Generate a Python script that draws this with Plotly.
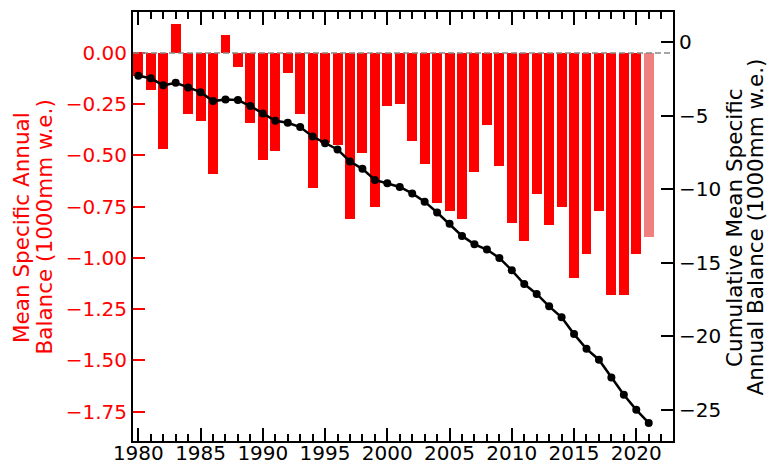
import plotly.graph_objects as go

years = list(range(1980, 2022))
annual_balance = [
    -0.11, -0.18, -0.47, 0.14, -0.30, -0.33, -0.59, 0.09, -0.07, -0.34,
    -0.52, -0.48, -0.10, -0.30, -0.66, -0.44, -0.45, -0.81, -0.49, -0.75,
    -0.26, -0.25, -0.43, -0.54, -0.73, -0.77, -0.81, -0.58, -0.35, -0.55,
    -0.83, -0.92, -0.69, -0.84, -0.75, -1.10, -0.98, -0.77, -1.18, -1.18,
    -0.98, -0.90,
]
cumulative_balance = [
    -2.30, -2.47, -2.95, -2.77, -3.09, -3.41, -4.02, -3.91, -3.95, -4.36,
    -4.86, -5.36, -5.49, -5.79, -6.43, -6.88, -7.31, -8.13, -8.63, -9.38,
    -9.60, -9.86, -10.30, -10.86, -11.60, -12.37, -13.19, -13.76, -14.12, -14.69,
    -15.53, -16.46, -17.14, -17.98, -18.73, -19.87, -20.87, -21.61, -22.82, -24.00,
    -25.02, -25.91,
]
bar_colors = ["#FF0000"] * (len(years) - 1) + ["#F08080"]

left_ticks = [0.0, -0.25, -0.5, -0.75, -1.0, -1.25, -1.5, -1.75]
right_ticks = [0, -5, -10, -15, -20, -25]

FONT = "DejaVu Sans"
FS = 20
TFS = 21.5

W, H = 769, 465
ML, MR, MT, MB = 133, 95.5, 12, 23.5

fig = go.Figure()
fig.add_trace(go.Bar(
    x=years, y=annual_balance, width=0.8,
    marker=dict(color=bar_colors, line=dict(width=0)),
    yaxis="y", showlegend=False,
))
fig.add_trace(go.Scatter(
    x=years, y=cumulative_balance, mode="lines+markers",
    line=dict(color="black", width=2.5),
    marker=dict(color="black", size=8),
    yaxis="y2", showlegend=False,
))

fig.add_shape(type="line", xref="paper", x0=0, x1=1, yref="y", y0=0, y1=0,
              line=dict(color="#888888", width=1.6, dash="6px,3px"), layer="above")

def title_ann(text, xpix, color):
    # xpix: horizontal centre of the line in page pixels
    return dict(text=text, textangle=-90, xref="paper", yref="paper",
                x=0, y=0.5, xanchor="center", yanchor="middle",
                xshift=xpix - ML, yshift=-1, showarrow=False,
                font=dict(size=TFS, color=color, family=FONT))

fig.update_layout(
    width=W, height=H,
    margin=dict(l=ML, r=MR, t=MT, b=MB, autoexpand=False),
    paper_bgcolor="white", plot_bgcolor="white",
    font=dict(family=FONT, size=FS, color="black"),
    bargap=0,
    xaxis=dict(
        range=[1979.57, 2022.95], tickmode="linear", tick0=1980, dtick=5,
        ticks="inside", ticklen=13, tickwidth=2, tickcolor="black",
        showline=True, linecolor="black", linewidth=2, mirror="ticks",
        showgrid=False, zeroline=False, tickformat="d",
        tickfont=dict(size=FS, color="black"),
        ticklabelstandoff=-7,
        minor=dict(dtick=1, tick0=1980, ticks="inside", ticklen=7, tickwidth=2,
                   tickcolor="black", showgrid=False),
    ),
    yaxis=dict(
        range=[-1.894, 0.2], tickmode="array", tickvals=left_ticks,
        tickformat=".2f", ticks="inside", ticklen=12, tickwidth=2, tickcolor="red",
        showline=True, linecolor="black", linewidth=2,
        showgrid=False, zeroline=False,
        tickfont=dict(size=FS, color="red"),
    ),
    yaxis2=dict(
        range=[-27.14, 2.04], overlaying="y", side="right",
        tickmode="array", tickvals=right_ticks,
        ticks="inside", ticklen=12, tickwidth=2, tickcolor="black",
        showline=True, linecolor="black", linewidth=2,
        showgrid=False, zeroline=False,
        tickfont=dict(size=FS, color="black"),
    ),
    annotations=[
        title_ann("Mean Specific Annual", 21.5, "red"),
        title_ann("Balance (1000mm w.e.)", 44, "red"),
        title_ann("Cumulative Mean Specific", 734.5, "black"),
        title_ann("Annual Balance (1000mm w.e.)", 755, "black"),
    ],
)

fig.write_html(
    "out.html",
    config={"displayModeBar": False},
    post_script="document.body.style.margin='0';document.body.style.overflow='hidden';",
)
